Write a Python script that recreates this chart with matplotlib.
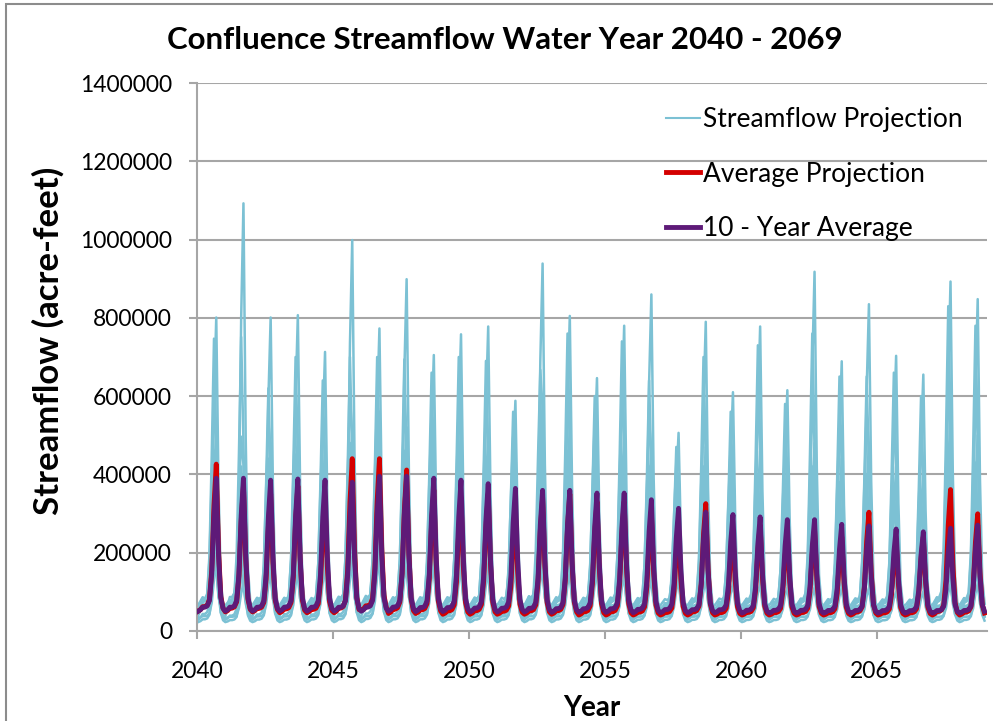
import numpy as np
import matplotlib
matplotlib.use("Agg")
import matplotlib.pyplot as plt
from matplotlib.patches import Rectangle
from matplotlib.lines import Line2D

plt.rcParams['font.family'] = ['Lato', 'DejaVu Sans']

# water years shown on the chart
years = list(range(2040, 2069))

# monthly hydrograph shapes (Oct..Sep), fraction of the spring peak above base flow
shape_june = [0.00, 0.01, 0.03, 0.03, 0.04, 0.08, 0.28, 0.72, 1.00, 0.42, 0.10, 0.02]
shape_may = [0.00, 0.02, 0.05, 0.06, 0.08, 0.22, 0.58, 1.00, 0.62, 0.18, 0.04, 0.00]
shape_wet = [0.01, 0.04, 0.07, 0.06, 0.08, 0.25, 0.62, 0.95, 0.80, 0.30, 0.06, 0.02]

# spring peaks of the individual streamflow projections (acre-feet / 1000)
proj_1 = [801, 1093, 801, 807, 713, 999, 773, 899, 705, 758, 778, 588, 939, 805, 646,
          780, 860, 506, 790, 610, 778, 615, 918, 689, 835, 703, 655, 893, 848]
proj_2 = [747, 751, 620, 700, 640, 700, 700, 694, 660, 700, 690, 560, 600, 760, 600,
          740, 640, 470, 700, 560, 730, 580, 760, 650, 650, 660, 600, 830, 780]
proj_3 = [520, 380, 480, 500, 470, 515, 560, 520, 500, 520, 500, 470, 554, 520, 480,
          500, 480, 400, 470, 450, 460, 440, 480, 440, 480, 420, 410, 560, 500]
proj_4 = [400, 300, 380, 380, 370, 420, 450, 400, 400, 400, 390, 380, 430, 400, 380,
          390, 370, 330, 360, 350, 350, 340, 350, 330, 360, 320, 310, 400, 370]
proj_5 = [320, 240, 300, 300, 300, 340, 360, 320, 320, 310, 300, 300, 330, 310, 300,
          300, 290, 270, 280, 270, 270, 260, 260, 250, 270, 240, 240, 300, 280]
proj_6 = [260, 190, 240, 240, 250, 270, 290, 260, 260, 250, 240, 240, 260, 250, 240,
          240, 230, 220, 220, 210, 210, 200, 200, 190, 200, 180, 180, 220, 210]
proj_7 = [210, 150, 190, 190, 200, 210, 230, 210, 210, 200, 190, 190, 200, 190, 190,
          180, 170, 170, 170, 160, 160, 150, 150, 140, 150, 140, 140, 160, 160]
proj_8 = [170, 120, 150, 150, 160, 170, 180, 170, 170, 160, 150, 150, 160, 150, 150,
          140, 130, 130, 130, 120, 120, 110, 110, 110, 110, 100, 100, 120, 120]
proj_9 = [600, 520, 560, 600, 560, 620, 620, 600, 580, 600, 600, 520, 700, 620, 560,
          620, 560, 450, 580, 500, 600, 500, 600, 560, 580, 540, 500, 640, 620]
proj_10 = [460, 420, 440, 450, 420, 480, 500, 460, 450, 460, 440, 420, 480, 460, 420,
           440, 420, 360, 420, 380, 400, 380, 420, 380, 400, 370, 350, 460, 430]
proj_peaks = [proj_1, proj_2, proj_3, proj_4, proj_5, proj_6, proj_7, proj_8, proj_9, proj_10]
# base (low) flow of each projection, acre-feet / 1000
proj_base = [55, 38, 28, 62, 46, 22, 58, 33, 42, 52]

# average of all projections: spring peaks and low flow
avg_peak = [426, 370, 350, 370, 330, 440, 440, 411, 360, 340, 350, 300, 340, 350, 330,
            330, 300, 260, 325, 250, 270, 250, 260, 240, 303, 230, 240, 361, 299]
avg_base = [50, 48, 48, 46, 46, 46, 52, 44, 44, 42, 42, 42, 42, 42, 40,
            40, 40, 40, 40, 40, 40, 40, 40, 40, 40, 40, 40, 40, 40]

# 10-year average: spring peaks and low flow
ten_peak = [390, 390, 385, 388, 385, 380, 395, 395, 390, 385, 376, 364, 359, 359, 352,
            352, 335, 313, 303, 297, 291, 284, 284, 272, 268, 260, 253, 262, 270]
ten_base = [50, 50, 50, 50, 50, 50, 50, 50, 49, 49, 48, 48, 48, 47, 47,
            47, 46, 46, 46, 46, 45, 45, 45, 45, 45, 45, 45, 45, 45]

legend_labels = ["Streamflow Projection", "Average Projection", "10 - Year Average"]


def monthly(peaks, base, shape):
    vals = []
    for k in range(len(years)):
        b = base[k] if isinstance(base, list) else base
        for f in shape:
            vals.append((b + (peaks[k] - b) * f) * 1000)
    return np.array(vals)


n = len(years) * 12
x = years[0] + (np.arange(n) + 0.5) / 12

fig = plt.figure(figsize=(9.93, 7.21), dpi=100)
ax = fig.add_axes([197 / 993, 1 - 630.7 / 721, (987 - 197) / 993, (630.7 - 83.3) / 721])

blue = "#7cc1d4"
shapes = [shape_june, shape_may, shape_june, shape_wet, shape_may]
for i, pk in enumerate(proj_peaks):
    shp = shapes[i % len(shapes)]
    ax.plot(x, monthly(pk, proj_base[i], shp), color=blue, lw=1.8, zorder=2)
ax.plot(x, monthly(avg_peak, avg_base, shape_june), color="#d40000", lw=3.5, zorder=3)
ax.plot(x, monthly(ten_peak, ten_base, shape_june), color="#5e1a78", lw=3.5, zorder=4)

ax.set_xlim(2040, 2069.05)
ax.set_ylim(0, 1400000)
ax.set_xticks([2040, 2045, 2050, 2055, 2060, 2065])
ax.set_yticks(np.arange(0, 1400001, 200000))
ax.yaxis.set_major_formatter(matplotlib.ticker.FuncFormatter(lambda v, p: "%d" % v))
ax.grid(axis="y", color="#a6a6a6", lw=1.5, zorder=0)
ax.set_axisbelow(True)
for s in ["top", "right"]:
    ax.spines[s].set_visible(False)
for s in ["left", "bottom"]:
    ax.spines[s].set_color("#a6a6a6")
    ax.spines[s].set_linewidth(1.5)
ax.tick_params(axis="both", direction="out", length=6, width=1.5, color="#a6a6a6",
               labelsize=16.5)
ax.tick_params(axis="y", pad=12)
ax.tick_params(axis="x", pad=16)

ax.set_ylabel("Streamflow (acre-feet)", fontsize=25, fontweight="bold")
ax.yaxis.set_label_coords(-0.168, 0.53)
ax.set_xlabel("Year", fontsize=20, fontweight="bold", labelpad=9)
fig.text(505 / 993, 1 - 40 / 721, "Confluence Streamflow Water Year 2040 - 2069",
         fontsize=22.5, fontweight="bold", ha="center", va="center")

handles = [Line2D([], [], color=blue, lw=1.5),
           Line2D([], [], color="#d40000", lw=3.5),
           Line2D([], [], color="#5e1a78", lw=3.5)]
fig.legend(handles, legend_labels, loc="upper left", bbox_to_anchor=(666 / 993, 1 - 107 / 721),
           frameon=False, fontsize=19, handlelength=1.3, handletextpad=0.1,
           labelspacing=1.12, borderpad=0, borderaxespad=0)

fig.patches.append(Rectangle((6 / 993, -0.1), 1.2, 1 - 4 / 721 + 0.1, transform=fig.transFigure,
                             fill=False, edgecolor="#8c8c8c", lw=1.5))

fig.savefig("out.png", dpi=100)
